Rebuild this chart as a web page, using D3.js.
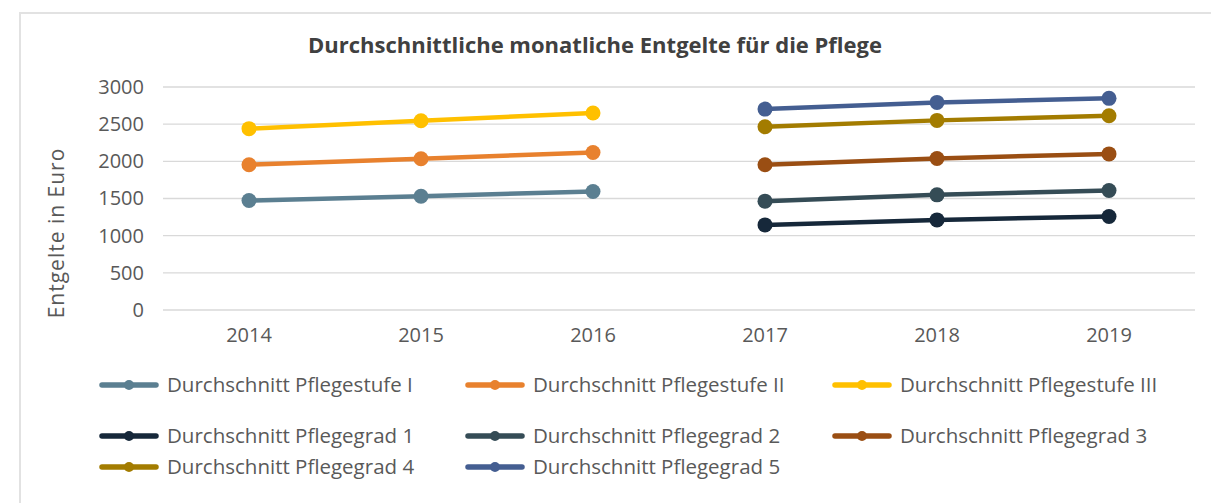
<!DOCTYPE html>
<html>
<head>
<meta charset="utf-8">
<script src="https://cdn.jsdelivr.net/npm/d3@7"></script>
<style>
  body { margin: 0; background: #fff; }
  text { font-family: "Open Sans", sans-serif; }
</style>
</head>
<body>
<div id="chart"></div>
<script>
const width = 1211;
const height = 503;

const years = ['2014', '2015', '2016', '2017', '2018', '2019'];
const yTicks = [0, 500, 1000, 1500, 2000, 2500, 3000];

// null = kein Wert in diesem Jahr
const stufe1 = [1473, 1531, 1594, null, null, null];
const stufe2 = [1955, 2034, 2119, null, null, null];
const stufe3 = [2440, 2546, 2650, null, null, null];
const grad1 = [null, null, null, 1145, 1212, 1257];
const grad2 = [null, null, null, 1464, 1549, 1608];
const grad3 = [null, null, null, 1955, 2039, 2100];
const grad4 = [null, null, null, 2465, 2551, 2613];
const grad5 = [null, null, null, 2703, 2793, 2847];

const seriesNames = [
  'Durchschnitt Pflegestufe I', 'Durchschnitt Pflegestufe II', 'Durchschnitt Pflegestufe III',
  'Durchschnitt Pflegegrad 1', 'Durchschnitt Pflegegrad 2', 'Durchschnitt Pflegegrad 3',
  'Durchschnitt Pflegegrad 4', 'Durchschnitt Pflegegrad 5'
];
const seriesValues = [stufe1, stufe2, stufe3, grad1, grad2, grad3, grad4, grad5];
const colors = ['#5b7f91', '#e8812e', '#ffc000', '#16283a', '#354c56', '#9a4e13', '#a37c00', '#445e91'];

const svg = d3.select('#chart').append('svg')
  .attr('width', width)
  .attr('height', height);

// Rahmen
svg.append('line')
  .attr('x1', 20).attr('y1', 13).attr('x2', width).attr('y2', 13)
  .style('stroke', '#e2e2e2').style('stroke-width', 2);
svg.append('line')
  .attr('x1', 20).attr('y1', 12).attr('x2', 20).attr('y2', height)
  .style('stroke', '#e2e2e2').style('stroke-width', 2);

const x = d3.scaleBand().domain(years).range([163, 1195]);
const y = d3.scaleLinear().domain([0, 3000]).range([310, 87]);

// Gitter
svg.append('g')
  .selectAll('line')
  .data(yTicks)
  .join('line')
  .attr('x1', 163).attr('x2', 1195)
  .attr('y1', d => y(d)).attr('y2', d => y(d))
  .style('stroke', '#d9d9d9').style('stroke-width', 1.3);

const yAxis = svg.append('g')
  .attr('transform', 'translate(163,0)')
  .call(d3.axisLeft(y).tickValues(yTicks).tickFormat(d3.format('d')).tickSize(0).tickPadding(19));
yAxis.select('.domain').remove();
yAxis.selectAll('text')
  .style('font-size', '20px').style('fill', '#595959');

const xAxis = svg.append('g')
  .attr('transform', 'translate(0,310)')
  .call(d3.axisBottom(x).tickSize(0).tickPadding(18));
xAxis.select('.domain').remove();
xAxis.selectAll('text')
  .style('font-size', '20px').style('fill', '#595959');

svg.append('text')
  .attr('x', 595).attr('y', 53)
  .attr('text-anchor', 'middle')
  .style('font-size', '22px').style('font-weight', 'bold').style('fill', '#404040')
  .text('Durchschnittliche monatliche Entgelte für die Pflege');

svg.append('text')
  .attr('transform', 'translate(64,233) rotate(-90)')
  .attr('text-anchor', 'middle')
  .style('font-size', '21px').style('letter-spacing', '1px').style('fill', '#595959')
  .text('Entgelte in Euro');

const line = d3.line()
  .defined(d => d.v !== null)
  .x(d => x(d.year) + x.bandwidth() / 2)
  .y(d => y(d.v));

seriesValues.forEach((vals, i) => {
  const pts = years.map((yr, j) => ({ year: yr, v: vals[j] }));
  svg.append('path')
    .datum(pts)
    .attr('d', line)
    .style('fill', 'none')
    .style('stroke', colors[i])
    .style('stroke-width', 4.5)
    .style('stroke-linecap', 'round');
  svg.append('g')
    .selectAll('circle')
    .data(pts.filter(d => d.v !== null))
    .join('circle')
    .attr('cx', d => x(d.year) + x.bandwidth() / 2)
    .attr('cy', d => y(d.v))
    .attr('r', 7.5)
    .style('fill', colors[i]);
});

// Legende
const legendPos = [
  [102, 385], [468, 385], [835, 385],
  [102, 436], [468, 436], [835, 436],
  [102, 467], [468, 467]
];
const legend = svg.append('g');
seriesNames.forEach((name, i) => {
  const g = legend.append('g')
    .attr('transform', `translate(${legendPos[i][0]}, ${legendPos[i][1]})`);
  g.append('line')
    .attr('x1', 0).attr('x2', 54).attr('y1', 0).attr('y2', 0)
    .style('stroke', colors[i]).style('stroke-width', 5.5)
    .style('stroke-linecap', 'round');
  g.append('circle')
    .attr('cx', 27).attr('cy', 0).attr('r', 5)
    .style('fill', colors[i]);
  g.append('text')
    .attr('x', 65).attr('y', 7)
    .style('font-size', '20.5px').style('fill', '#595959')
    .text(name);
});
</script>
</body>
</html>
